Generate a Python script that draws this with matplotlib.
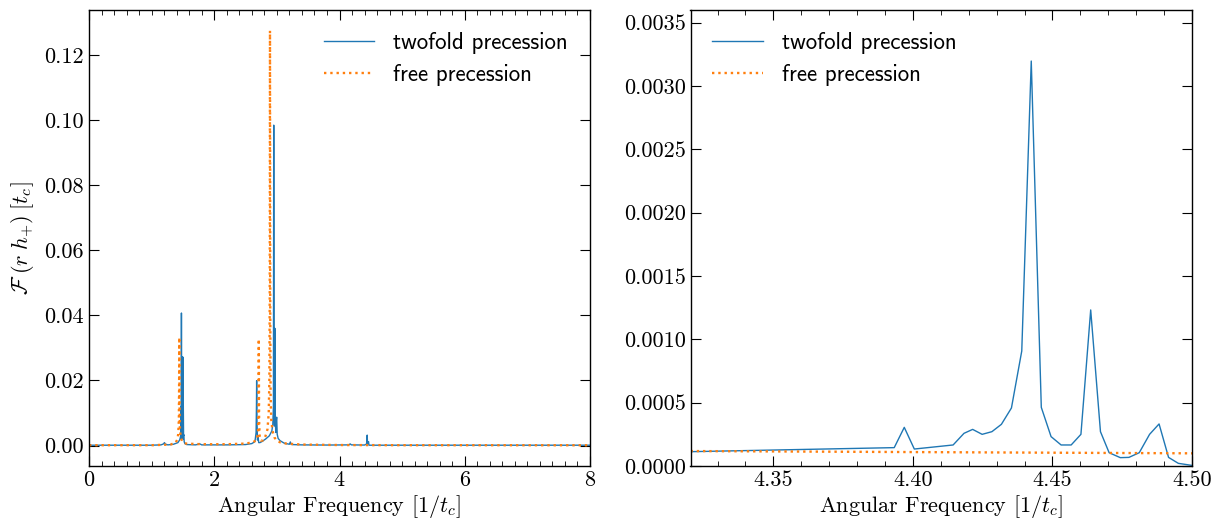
import matplotlib
matplotlib.use('Agg')
import matplotlib.pyplot as plt
from matplotlib.ticker import MultipleLocator, FormatStrFormatter

plt.rcParams['font.family'] = 'cmr10'
plt.rcParams['mathtext.fontset'] = 'cm'
plt.rcParams['axes.formatter.use_mathtext'] = True
plt.rcParams['axes.unicode_minus'] = False

# overview spectrum (left panel)
omega_twofold = [0.0, 0.5, 1.0, 1.15, 1.19, 1.205, 1.22, 1.26, 1.35, 1.42, 1.45,
                 1.465, 1.47, 1.473, 1.476, 1.479, 1.482, 1.485, 1.488, 1.491, 1.494,
                 1.497, 1.50, 1.503, 1.506, 1.51, 1.515, 1.52, 1.53, 1.56, 1.7, 1.75,
                 1.76, 1.8, 2.2, 2.5, 2.6, 2.65, 2.668, 2.674, 2.677, 2.682, 2.69, 2.70,
                 2.71, 2.73, 2.76, 2.82, 2.88, 2.92, 2.935, 2.945, 2.950, 2.955, 2.962,
                 2.968, 2.972, 2.978, 2.985, 2.992, 2.997, 3.005, 3.02, 3.05, 3.12,
                 3.2, 3.215, 3.225, 3.24, 3.4, 3.8, 4.15, 4.17, 4.19, 4.40, 4.435,
                 4.4424, 4.447, 4.4637, 4.47, 4.5, 5.0, 6.0, 7.0, 8.0]
amp_twofold = [0.0001, 0.0001, 0.0001, 0.0002, 0.0005, 0.0009, 0.0004, 0.0002, 0.0004,
               0.0009, 0.0018, 0.003, 0.012, 0.002, 0.0407, 0.004, 0.020, 0.003, 0.018,
               0.004, 0.0273, 0.003, 0.027, 0.002, 0.012, 0.003, 0.0033, 0.0012, 0.0006,
               0.0003, 0.0002, 0.0004, 0.0006, 0.0002, 0.0002, 0.0003, 0.0006, 0.0012,
               0.004, 0.012, 0.0199, 0.008, 0.0017, 0.0025, 0.0009, 0.0009, 0.0012,
               0.0020, 0.0030, 0.0045, 0.0065, 0.012, 0.0984, 0.020, 0.006, 0.036,
               0.010, 0.006, 0.004, 0.008, 0.0087, 0.0035, 0.0022, 0.0015, 0.0007,
               0.0004, 0.0011, 0.0004, 0.0003, 0.0002, 0.00015, 0.0002, 0.0005, 0.0002,
               0.00015, 0.0005, 0.0032, 0.0005, 0.0012, 0.0001, 0.0001, 0.0001,
               0.0001, 0.0001, 0.0001]

omega_free = [0.0, 0.5, 1.0, 1.3, 1.38, 1.41, 1.425, 1.435, 1.439, 1.442, 1.446, 1.452,
              1.465, 1.49, 1.55, 1.8, 2.2, 2.5, 2.62, 2.68, 2.70, 2.706, 2.711, 2.716,
              2.725, 2.745, 2.78, 2.82, 2.85, 2.87, 2.88, 2.886, 2.89, 2.894, 2.90,
              2.91, 2.93, 2.96, 3.0, 3.05, 3.15, 3.4, 4.0, 5.0, 6.0, 7.0, 8.0]
amp_free = [0.0001, 0.0001, 0.0001, 0.0003, 0.0008, 0.0018, 0.0035, 0.008, 0.018,
            0.0332, 0.012, 0.005, 0.0025, 0.0012, 0.0006, 0.0004, 0.0004, 0.0006,
            0.0010, 0.0018, 0.0040, 0.012, 0.0327, 0.008, 0.0030, 0.0015, 0.0016,
            0.0030, 0.0050, 0.010, 0.020, 0.045, 0.1274, 0.040, 0.015, 0.008, 0.0045,
            0.0025, 0.0015, 0.0010, 0.0006, 0.0003, 0.00015, 0.0001, 0.0001,
            0.00009, 0.00008]

# zoom on the 4.44 feature (right panel)
omega_zoom = [4.3203, 4.3933, 4.3969, 4.4005, 4.4144, 4.4183, 4.4214, 4.4248, 4.4283,
              4.4317, 4.4353, 4.4390, 4.4424, 4.4460, 4.4495, 4.4531, 4.4567, 4.4602,
              4.4637, 4.4672, 4.4703, 4.4743, 4.4774, 4.4811, 4.4848, 4.4882, 4.4916,
              4.4951, 4.5005]
amp_zoom_twofold = [0.000113, 0.000145, 0.000305, 0.000134, 0.000166, 0.000258,
                    0.000289, 0.000250, 0.000271, 0.000329, 0.000458, 0.000908,
                    0.003197, 0.000463, 0.000232, 0.000166, 0.000166, 0.000250,
                    0.001232, 0.000271, 0.000105, 0.000066, 0.000068, 0.000105,
                    0.000250, 0.000332, 0.000068, 0.000021, 0.000003]
omega_zoom_free = [4.3203, 4.40, 4.5005]
amp_zoom_free = [0.000118, 0.000110, 0.000100]

blue = '#1f77b4'
orange = '#ff7f0e'

fig = plt.figure(figsize=(12.21, 5.21), dpi=100)
ax1 = fig.add_axes([89 / 1221, 55 / 521, 501 / 1221, 456 / 521])
ax2 = fig.add_axes([690.5 / 1221, 55 / 521, 501.5 / 1221, 456 / 521])

ax1.plot(omega_twofold, amp_twofold, color=blue, lw=1.0, label='twofold precession')
ax1.plot(omega_free, amp_free, color=orange, lw=1.7, ls=':', label='free precession')
ax1.set_xlim(0, 8)
ax1.xaxis.set_major_locator(MultipleLocator(2))
ax1.xaxis.set_minor_locator(MultipleLocator(0.2))
ax1.yaxis.set_major_locator(MultipleLocator(0.02))
ax1.yaxis.set_major_formatter(FormatStrFormatter('%.2f'))
ax1.set_xlabel(r'Angular Frequency $[1/t_c]$', fontsize=16, labelpad=2)
ax1.set_ylabel(r'$\mathcal{F}\;(r\;h_{+})\;[t_c]$', fontsize=16, labelpad=6)

ax2.plot(omega_zoom, amp_zoom_twofold, color=blue, lw=1.0, label='twofold precession')
ax2.plot(omega_zoom_free, amp_zoom_free, color=orange, lw=1.7, ls=':', label='free precession')
ax2.set_xlim(4.3203, 4.50)
ax2.set_ylim(0, 0.0036)
ax2.xaxis.set_major_locator(MultipleLocator(0.05))
ax2.xaxis.set_minor_locator(MultipleLocator(0.01))
ax2.yaxis.set_major_locator(MultipleLocator(0.0005))
ax2.yaxis.set_major_formatter(FormatStrFormatter('%.4f'))
ax2.xaxis.set_major_formatter(FormatStrFormatter('%.2f'))
ax2.set_xlabel(r'Angular Frequency $[1/t_c]$', fontsize=16, labelpad=2)

for ax in (ax1, ax2):
    ax.tick_params(which='both', direction='in', top=True, right=True, labelsize=16)
    ax.tick_params(which='major', length=7, width=0.8)
    ax.tick_params(which='minor', length=3.5, width=0.6)
    ax.yaxis.set_minor_locator(plt.NullLocator())
    for s in ax.spines.values():
        s.set_linewidth(1.0)

leg_kw = dict(frameon=False, prop={'family': 'cmss10', 'size': 16.5},
              handlelength=2.2, handletextpad=0.85, labelspacing=0.45, borderaxespad=0.55)
ax1.legend(loc='upper right', **leg_kw)
ax2.legend(loc='upper left', **leg_kw)

fig.savefig('out.png', dpi=100)
